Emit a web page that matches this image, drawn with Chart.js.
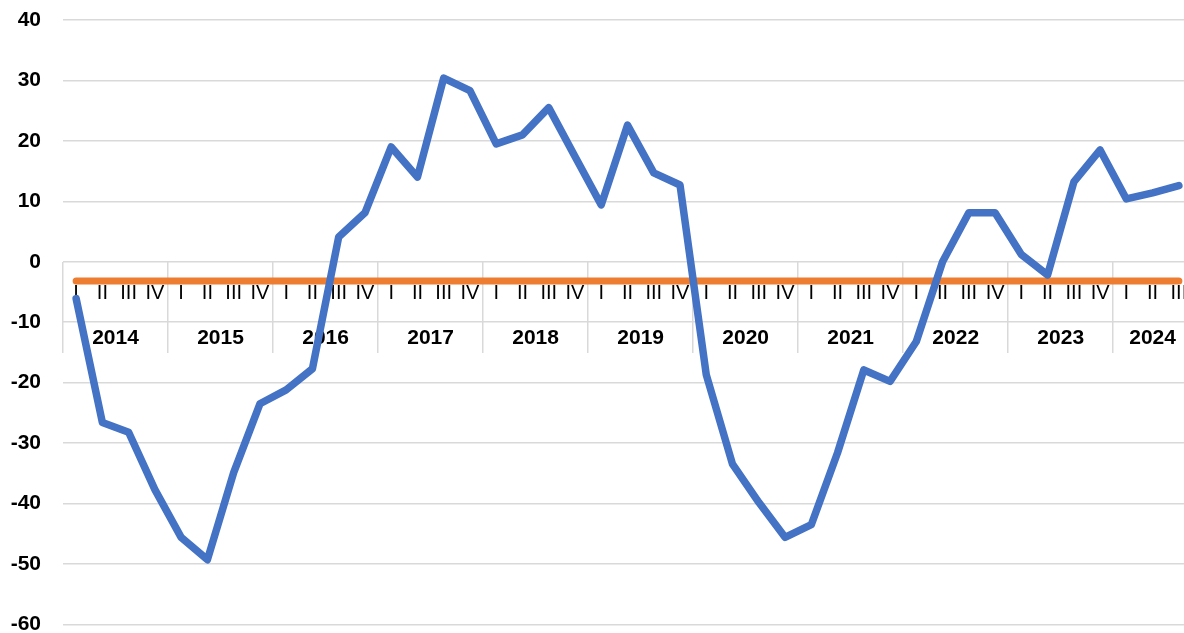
<!DOCTYPE html>
<html><head><meta charset="utf-8">
<style>
html,body{margin:0;padding:0;overflow:hidden;background:#fff}
#wrap{width:1192px;height:637px;position:relative}
</style>
<script src="https://cdn.jsdelivr.net/npm/chart.js@4/dist/chart.umd.min.js"></script>
</head><body>
<div id="wrap"><canvas id="c"></canvas></div>
<script>
const years = ['2014','2015','2016','2017','2018','2019','2020','2021','2022','2023','2024'];
const quarters = [
  'I','II','III','IV', 'I','II','III','IV', 'I','II','III','IV', 'I','II','III','IV',
  'I','II','III','IV', 'I','II','III','IV', 'I','II','III','IV', 'I','II','III','IV',
  'I','II','III','IV', 'I','II','III','IV', 'I','II','III'
];
const balance = [
  -6.1, -26.6, -28.2, -37.7,
  -45.6, -49.3, -34.9, -23.5,
  -21.2, -17.7, 4.1, 8.1,
  19.0, 14.0, 30.4, 28.3,
  19.5, 21.0, 25.5, 17.4,
  9.4, 22.6, 14.7, 12.7,
  -18.7, -33.5, -39.8, -45.6,
  -43.5, -31.6, -17.9, -19.8,
  -13.2, 0.0, 8.1, 8.1,
  1.2, -2.2, 13.2, 18.5,
  10.4, 11.4, 12.6
];
const average = [
  -3.2, -3.2, -3.2, -3.2, -3.2, -3.2, -3.2, -3.2, -3.2, -3.2, -3.2,
  -3.2, -3.2, -3.2, -3.2, -3.2, -3.2, -3.2, -3.2, -3.2, -3.2, -3.2,
  -3.2, -3.2, -3.2, -3.2, -3.2, -3.2, -3.2, -3.2, -3.2, -3.2, -3.2,
  -3.2, -3.2, -3.2, -3.2, -3.2, -3.2, -3.2, -3.2, -3.2, -3.2
];
const yTicks = { min: -60, max: 40, step: 10 };

// centre of each year's group of quarters (category index units)
const yearCenters = [];
{
  let start = 0;
  for (let i = 1; i <= quarters.length; i++) {
    if (i === quarters.length || quarters[i] === 'I') {
      yearCenters.push((start + i - 1) / 2);
      start = i;
    }
  }
}

const GRID = '#d9d9d9';
const NONE = 'rgba(0,0,0,0)';
const FONT = 'Liberation Sans, Arial, sans-serif';

new Chart(document.getElementById('c'), {
  type: 'line',
  data: {
    labels: quarters,
    datasets: [
      { data: balance, xAxisID: 'x', yAxisID: 'y', borderColor: '#4472C4', borderWidth: 7.5,
        pointRadius: 0, tension: 0, borderCapStyle: 'round', borderJoinStyle: 'round', fill: false },
      { data: average, xAxisID: 'x', yAxisID: 'y', borderColor: '#ED7D31', borderWidth: 7,
        pointRadius: 0, tension: 0, borderCapStyle: 'round', fill: false }
    ]
  },
  options: {
    responsive: true,
    maintainAspectRatio: false,
    animation: false,
    layout: { padding: { top: 20, bottom: 0, left: 0, right: 0 } },
    plugins: { legend: { display: false }, tooltip: { enabled: false } },
    scales: {
      x: {
        type: 'category', axis: 'x', offset: true, position: { y: 0 },
        border: { display: false },
        grid: {
          offset: true, drawOnChartArea: false, drawTicks: true, tickLength: 91,
          color: c => (c.index !== undefined && c.index % 4 === 0) ? GRID : NONE,
          tickColor: c => (c.index !== undefined && c.index % 4 === 0) ? GRID : NONE,
          lineWidth: 1.5
        },
        ticks: { autoSkip: false, maxRotation: 0, minRotation: 0, padding: -71, color: '#000',
                 font: { family: FONT, size: 20 } }
      },
      xYear: {
        type: 'linear', axis: 'x', min: -0.5, max: quarters.length - 0.5, position: { y: 0 },
        border: { display: false },
        grid: { display: false, drawTicks: true, tickLength: 64 },
        afterBuildTicks: s => { s.ticks = yearCenters.map(v => ({ value: v })); },
        ticks: { autoSkip: false, maxRotation: 0, minRotation: 0, padding: 0, color: '#000',
                 font: { family: FONT, size: 21, weight: 'bold' },
                 callback: (v, i) => years[i] }
      },
      y: {
        min: yTicks.min, max: yTicks.max,
        border: { display: false },
        grid: { color: GRID, lineWidth: 1.5, drawTicks: true, tickLength: 22, tickColor: NONE },
        ticks: { stepSize: yTicks.step, padding: 0, color: '#000',
                 font: { family: FONT, size: 21, weight: 'bold' } },
        afterFit: s => { s.width = 63; }
      }
    }
  }
});
</script>
</body></html>
